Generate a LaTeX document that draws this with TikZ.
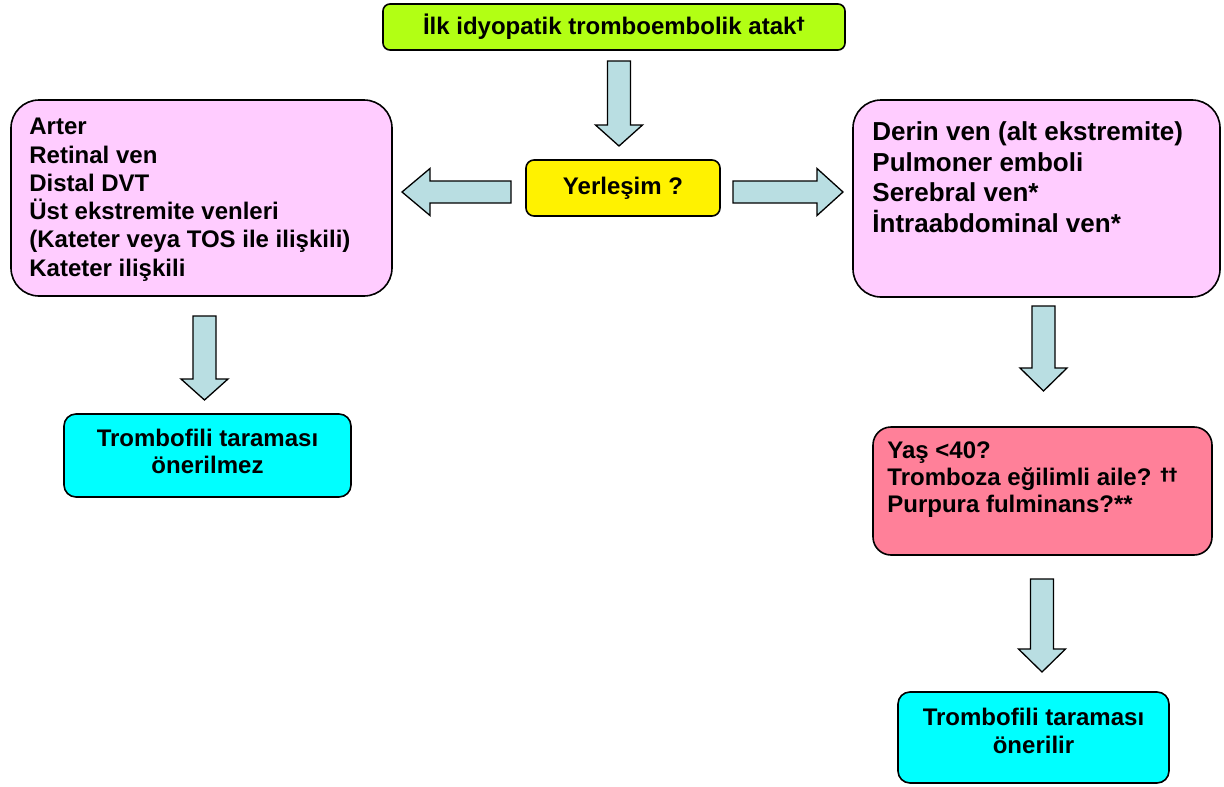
\documentclass[tikz,border=0pt]{standalone}
\usepackage{fontspec}
\setmainfont{Liberation Sans}
\newfontfamily\dagfont{DejaVu Sans}
\usetikzlibrary{calc}
\definecolor{limeg}{RGB}{178,255,20}
\definecolor{yellowc}{RGB}{255,242,0}
\definecolor{pinkc}{RGB}{255,204,255}
\definecolor{rosec}{RGB}{255,128,153}
\definecolor{cyanc}{RGB}{0,255,255}
\definecolor{arrowc}{RGB}{185,222,226}
\newcommand\varrow[4]{% x, y top, y head, y tip
  \draw[blockarrow] (#1-11.5,#2) -- (#1+11.5,#2) -- (#1+11.5,#3) -- (#1+23.5,#3)
    -- (#1,#4) -- (#1-23.5,#3) -- (#1-11.5,#3) -- cycle;}
\newcommand\harrow[4]{% y, x tail, x head, x tip
  \draw[blockarrow] (#2,#1-11) -- (#3,#1-11) -- (#3,#1-23.5) -- (#4,#1)
    -- (#3,#1+23.5) -- (#3,#1+11) -- (#2,#1+11) -- cycle;}
\newcommand\mydag[1]{\raisebox{5pt}{\dagfont\bfseries\fontsize{17}{17}\selectfont #1}}
\begin{document}
\begin{tikzpicture}[x=1pt,y=-1pt,
  box/.style={draw=black, line width=1.6pt, rounded corners=#1, inner sep=0pt},
  txt/.style={inner sep=0pt, font=\bfseries\fontsize{24}{28.3}\selectfont, align=left},
  bigtxt/.style={inner sep=0pt, font=\bfseries\fontsize{26}{30.5}\selectfont, align=left},
  ctxt/.style={inner sep=0pt, font=\bfseries\fontsize{24}{27.5}\selectfont, align=center},
  blockarrow/.style={draw=black, line width=1.3pt, fill=arrowc, line join=miter}]
\useasboundingbox (0,0) rectangle (1224,787);

% boxes
\node[box=7pt, fill=limeg, minimum width=462pt, minimum height=46pt,
      font=\bfseries\fontsize{24}{28}\selectfont] (start) at (614,27)
      {İlk idyopatik tromboembolik atak\mydag{†}};
\node[box=8pt, fill=yellowc, minimum width=194pt, minimum height=56pt,
      font=\bfseries\fontsize{24}{28}\selectfont] (yer) at (623,188) {Yerleşim ?};
\node[box=28pt, fill=pinkc, minimum width=381pt, minimum height=196pt] (left) at (201.5,198) {};
\node[box=28pt, fill=pinkc, minimum width=367pt, minimum height=197pt] (right) at (1036.5,198.5) {};
\node[box=12pt, fill=cyanc, minimum width=287pt, minimum height=83pt] (neg) at (207.5,455.5) {};
\node[box=18pt, fill=rosec, minimum width=339pt, minimum height=128pt] (risk) at (1042.5,491) {};
\node[box=12pt, fill=cyanc, minimum width=271pt, minimum height=91pt] (pos) at (1033.5,737.5) {};

% texts (base anchor = baseline of the last line)
\node[txt, anchor=base west] (lefttxt) at ($(left.north west)+(19,177)$)
  {Arter\\Retinal ven\\Distal DVT\\Üst ekstremite venleri\\(Kateter veya TOS ile ilişkili)\\Kateter ilişkili};
\node[bigtxt, anchor=base west] (righttxt) at ($(right.north west)+(20,133)$)
  {Derin ven (alt ekstremite)\\Pulmoner emboli\\Serebral ven*\\İntraabdominal ven*};
\node[txt, anchor=base west, font=\bfseries\fontsize{24}{27}\selectfont] (risktxt) at ($(risk.north west)+(15,86)$)
  {Yaş <40?\\Tromboza eğilimli aile? \mydag{††}\\Purpura fulminans?**};
\node[ctxt] (negtxt) at ($(neg.center)+(0,-4)$) {Trombofili taraması\\önerilmez};
\node[ctxt] (postxt) at ($(pos.center)+(0,-6.5)$) {Trombofili taraması\\önerilir};

% block arrows
\varrow{619}{61}{125}{146}
\harrow{192}{511}{430}{402}
\harrow{192}{733}{817}{843}
\varrow{204.5}{316}{379}{400}
\varrow{1043.5}{306}{368}{391}
\varrow{1042}{579}{649}{672}
\end{tikzpicture}
\end{document}
